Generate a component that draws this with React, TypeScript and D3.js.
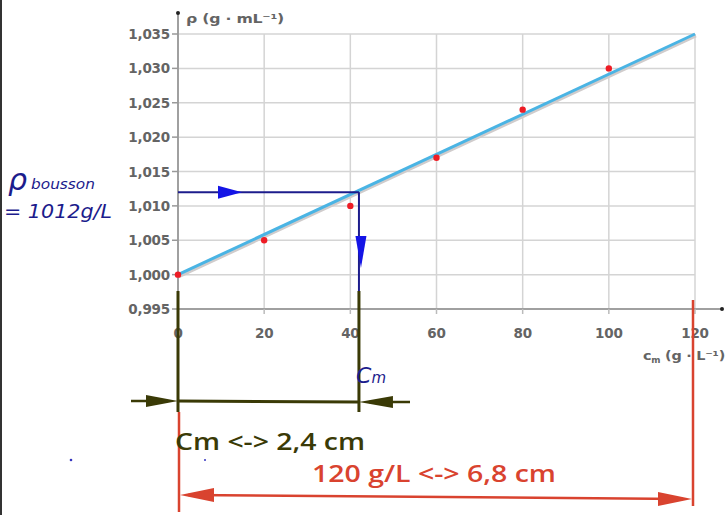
import React from "react";
import * as d3 from "d3";

// mass concentration (g/L) and density (g/mL)
const concentrations = [0, 20, 40, 60, 80, 100];
const densities = [1.0, 1.005, 1.01, 1.017, 1.024, 1.03];
const fitC = [0, 120];
const fitRho = [1.0, 1.035];
const xTicks = [0, 20, 40, 60, 80, 100, 120];
const yTicks = [0.995, 1.0, 1.005, 1.01, 1.015, 1.02, 1.025, 1.03, 1.035];
// reading of the drink
const rhoBoisson = 1.012;
const cmRead = 42;

const navy = "#1c1c8c";
const olive = "#3a3a06";
const red = "#d9432f";

const fmt = (v: number) => d3.format(".3f")(v).replace(".", ",");

// triangle arrowhead, tip at (x,y), pointing in direction dir (radians)
function head(x: number, y: number, dir: number, len: number, half: number) {
  const bx = x - len * Math.cos(dir);
  const by = y - len * Math.sin(dir);
  const px = -Math.sin(dir) * half;
  const py = Math.cos(dir) * half;
  return `${x},${y} ${bx + px},${by + py} ${bx - px},${by - py}`;
}

export default function App() {
  const x = d3.scaleLinear().domain([0, 120]).range([178, 695]);
  const y = d3.scaleLinear().domain([0.995, 1.035]).range([309, 34]);
  const line = d3
    .line<number>()
    .x((d) => x(fitC[d]))
    .y((d) => y(fitRho[d]));

  const x0 = x(0);
  const xr = x(cmRead);
  const yr = y(rhoBoisson);
  const x120 = x(120);
  const yAxis = y(0.995);
  const tickFont = {
    fontFamily: "DejaVu Sans, sans-serif",
    fontSize: 13.5,
    fontWeight: 700,
    fill: "#646464",
    letterSpacing: "-0.2px",
  };
  const bigFont = {
    fontFamily: "Open Sans, sans-serif",
    fontWeight: 600,
    fontSize: 23,
    lengthAdjust: "spacingAndGlyphs",
  };

  return (
    <svg
      width={726}
      height={515}
      style={{ position: "absolute", left: 0, top: 0, background: "#fff" }}
    >
      <line x1={1} x2={1} y1={0} y2={515} stroke="#333" strokeWidth={2} />

      {/* grid */}
      {yTicks
        .filter((t) => t > 0.996)
        .map((t) => (
          <line key={"gy" + t} x1={x0} x2={x(120)} y1={y(t)} y2={y(t)} stroke="#d4d4d4" strokeWidth={1.5} />
        ))}
      {xTicks
        .filter((t) => t > 0)
        .map((t) => (
          <line key={"gx" + t} x1={x(t)} x2={x(t)} y1={y(1.035)} y2={yAxis} stroke="#d4d4d4" strokeWidth={1.5} />
        ))}

      {/* axes */}
      <line x1={x0} x2={x0} y1={yAxis} y2={14} stroke="#a0a0a0" strokeWidth={2} />
      <circle cx={x0} cy={13} r={2} fill="#222" />
      <line x1={x0} x2={722} y1={yAxis} y2={yAxis} stroke="#a0a0a0" strokeWidth={2} />
      <circle cx={722} cy={yAxis} r={2} fill="#222" />

      {yTicks.map((t) => (
        <g key={"ty" + t}>
          <line x1={x0 - 6} x2={x0} y1={y(t)} y2={y(t)} stroke="#999" strokeWidth={1.5} />
          <text x={x0 - 8} y={y(t) + 5} textAnchor="end" {...tickFont}>
            {fmt(t)}
          </text>
        </g>
      ))}
      {xTicks.map((t) => (
        <g key={"tx" + t}>
          <line x1={x(t)} x2={x(t)} y1={yAxis} y2={yAxis + 5} stroke="#bbb" strokeWidth={1.5} />
          <text x={x(t)} y={yAxis + 29} textAnchor="middle" {...tickFont}>
            {t}
          </text>
        </g>
      ))}

      <text x={186} y={23} {...tickFont} fontSize={13} textLength={98} lengthAdjust="spacingAndGlyphs">
        ρ (g · mL⁻¹)
      </text>
      <text x={643} y={360} {...tickFont} fontSize={13} textLength={82} lengthAdjust="spacingAndGlyphs">
        c<tspan fontSize={8} dy={3}>m</tspan>
        <tspan dy={-3}> (g · L⁻¹)</tspan>
      </text>

      {/* fitted line */}
      <path d={line([0, 1]) || ""} transform="translate(1,2)" stroke="#d0cccc" strokeWidth={3} fill="none" />
      <path d={line([0, 1]) || ""} stroke="#4ab4e4" strokeWidth={3} fill="none" />
      {concentrations.map((c, i) => (
        <circle key={"p" + c} cx={x(c)} cy={y(densities[i])} r={3.2} fill="#ee1c25" />
      ))}

      {/* reading in blue */}
      <line x1={x0} x2={xr} y1={yr} y2={yr} stroke={navy} strokeWidth={2} />
      <polygon points={head(x0 + 64, yr, 0, 24, 6.5)} fill="#1414e6" />
      <line x1={xr} x2={xr} y1={yr} y2={292} stroke={navy} strokeWidth={2} />
      <polygon points={head(xr + 2, 268, Math.PI / 2, 32, 5.5)} fill="#1414e6" />

      {/* olive: Cm length */}
      <line x1={x0} x2={x0} y1={291} y2={412} stroke={olive} strokeWidth={3} />
      <line x1={xr} x2={xr} y1={291} y2={412} stroke={olive} strokeWidth={3} />
      <line x1={x0} x2={xr} y1={401} y2={402} stroke={olive} strokeWidth={3} />
      <line x1={131} x2={x0 - 10} y1={401} y2={401} stroke={olive} strokeWidth={2.5} />
      <polygon points={head(x0, 401, 0, 32, 6)} fill={olive} />
      <line x1={410} x2={xr + 10} y1={402} y2={402} stroke={olive} strokeWidth={2.5} />
      <polygon points={head(xr, 402, Math.PI, 34, 6)} fill={olive} />

      {/* red: full axis length */}
      <line x1={x0 + 1} x2={x0 + 1} y1={412} y2={512} stroke={red} strokeWidth={2.5} />
      <line x1={x120 - 2} x2={x120 - 2} y1={300} y2={506} stroke={red} strokeWidth={2.5} />
      <line x1={x0 + 10} x2={x120 - 12} y1={495} y2={499} stroke={red} strokeWidth={2.5} />
      <polygon points={head(x0 + 2, 495, Math.PI, 34, 7)} fill={red} />
      <polygon points={head(x120 - 3, 499, 0, 34, 7)} fill={red} />

      <text x={175} y={450} {...bigFont} fill={olive} textLength={190}>
        Cm &lt;-&gt; 2,4 cm
      </text>
      <text x={312} y={482} {...bigFont} fill={red} textLength={244}>
        120 g/L &lt;-&gt; 6,8 cm
      </text>

      {/* handwritten notes */}
      <g fill={navy} fontFamily="DejaVu Sans, sans-serif" fontStyle="italic">
        <text x={8} y={190} fontSize={30}>ρ</text>
        <text x={31} y={189} fontSize={14} textLength={64} lengthAdjust="spacingAndGlyphs">bousson</text>
        <text x={4} y={218} fontSize={19} textLength={108} lengthAdjust="spacingAndGlyphs">= 1012g/L</text>
        <text x={356} y={383} fontSize={22}>C<tspan fontSize={15}>m</tspan></text>
      </g>
      <circle cx={71} cy={460} r={1.3} fill="#3535c0" />
      <circle cx={205} cy={460} r={1} fill="#3535c0" />
    </svg>
  );
}
